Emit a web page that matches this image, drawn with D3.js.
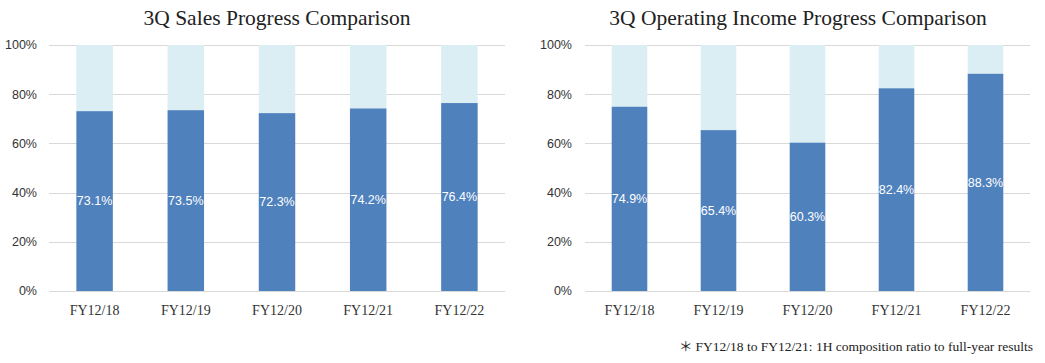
<!DOCTYPE html>
<html>
<head>
<meta charset="utf-8">
<script src="https://cdn.jsdelivr.net/npm/d3@7"></script>
<style>
  body { margin: 0; background: #fff; }
  svg { display: block; }
</style>
</head>
<body>
<div id="chart"></div>
<script>
// data
var years = ["FY12/18", "FY12/19", "FY12/20", "FY12/21", "FY12/22"];
var salesProgress = [73.1, 73.5, 72.3, 74.2, 76.4];
var incomeProgress = [74.9, 65.4, 60.3, 82.4, 88.3];
var yTicks = [0, 20, 40, 60, 80, 100];

var darkColor = "#4F81BD",
    lightColor = "#DAEEF3",
    gridColor = "#D9D9D9";

var svg = d3.select("#chart")
    .append("svg")
    .attr("width", 1045)
    .attr("height", 363);

var top0 = 45, bottom0 = 291;

drawChart("3Q Sales Progress Comparison", salesProgress, 49, 505, 37, 277);
drawChart("3Q Operating Income Progress Comparison", incomeProgress, 585, 1030, 572, 798);

// footnote
var note = svg.append("text")
    .attr("x", 1033)
    .attr("y", 351)
    .attr("text-anchor", "end")
    .style("font-family", "'Liberation Serif', 'Times New Roman', serif")
    .style("font-size", "13.5px")
    .style("fill", "#222");
note.append("tspan")
    .style("font-family", "'Noto Sans CJK JP', sans-serif")
    .text("\uFF0A");
note.append("tspan")
    .attr("dx", 3)
    .text("FY12/18 to FY12/21: 1H composition ratio to full-year results");


function drawChart(title, values, left, right, labelX, titleX)
{
    var g = svg.append("g");

    var x = d3.scaleBand()
        .domain(years)
        .range([left, right])
        .paddingInner(0.6)
        .paddingOuter(0.3);

    var y = d3.scaleLinear()
        .domain([0, 100])
        .range([bottom0, top0]);

    // title
    g.append("text")
        .attr("x", titleX)
        .attr("y", 25)
        .attr("text-anchor", "middle")
        .style("font-family", "'Liberation Serif', 'Times New Roman', serif")
        .style("font-size", "21.5px")
        .style("fill", "#222")
        .text(title);

    // gridlines
    g.selectAll("line.grid")
        .data(yTicks)
        .enter()
        .append("line")
        .attr("class", "grid")
        .attr("x1", left)
        .attr("x2", right)
        .attr("y1", function(d) { return Math.round(y(d)) + 0.5; })
        .attr("y2", function(d) { return Math.round(y(d)) + 0.5; })
        .style("stroke", gridColor)
        .style("stroke-width", 1);

    // y labels
    g.selectAll("text.ylab")
        .data(yTicks)
        .enter()
        .append("text")
        .attr("class", "ylab")
        .attr("x", labelX)
        .attr("y", function(d) { return y(d); })
        .attr("dy", "0.35em")
        .attr("text-anchor", "end")
        .style("font-family", "'Liberation Sans', Arial, sans-serif")
        .style("font-size", "12.5px")
        .style("fill", "#333")
        .text(function(d) { return d + "%"; });

    // light remainder bars
    g.selectAll("rect.rest")
        .data(values)
        .enter()
        .append("rect")
        .attr("class", "rest")
        .attr("x", function(d, i) { return x(years[i]); })
        .attr("width", x.bandwidth())
        .attr("y", y(100))
        .attr("height", function(d) { return y(d) - y(100); })
        .style("fill", lightColor);

    // progress bars
    g.selectAll("rect.prog")
        .data(values)
        .enter()
        .append("rect")
        .attr("class", "prog")
        .attr("x", function(d, i) { return x(years[i]); })
        .attr("width", x.bandwidth())
        .attr("y", function(d) { return y(d); })
        .attr("height", function(d) { return y(0) - y(d); })
        .style("fill", darkColor);

    // value labels
    g.selectAll("text.val")
        .data(values)
        .enter()
        .append("text")
        .attr("class", "val")
        .attr("x", function(d, i) { return x(years[i]) + x.bandwidth() / 2; })
        .attr("y", function(d) { return (y(d) + y(0)) / 2; })
        .attr("dy", "0.35em")
        .attr("text-anchor", "middle")
        .style("font-family", "'Liberation Sans', Arial, sans-serif")
        .style("font-size", "12.5px")
        .style("fill", "#fff")
        .text(function(d) { return d.toFixed(1) + "%"; });

    // x labels
    g.selectAll("text.xlab")
        .data(years)
        .enter()
        .append("text")
        .attr("class", "xlab")
        .attr("x", function(d) { return x(d) + x.bandwidth() / 2; })
        .attr("y", 315)
        .attr("text-anchor", "middle")
        .style("font-family", "'Liberation Serif', 'Times New Roman', serif")
        .style("font-size", "14px")
        .style("fill", "#333")
        .text(function(d) { return d; });
}
</script>
</body>
</html>
